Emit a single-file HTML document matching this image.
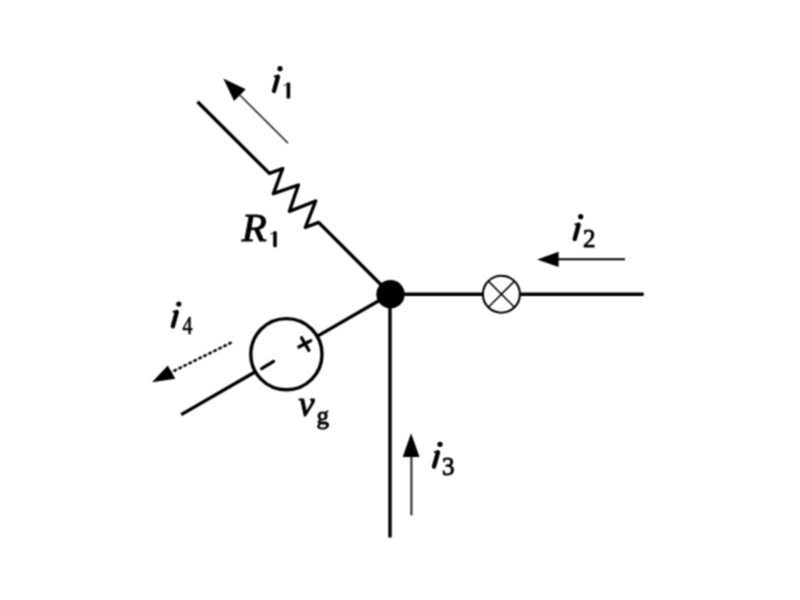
<!DOCTYPE html>
<html>
<head>
<meta charset="utf-8">
<style>
html,body{margin:0;padding:0;background:#fff;width:800px;height:600px;overflow:hidden;}
svg{display:block;}
.t{font-family:"Liberation Serif",serif;font-weight:normal;font-style:italic;font-size:40px;fill:#000;stroke:#000;stroke-width:0.9;}
.s{font-family:"Liberation Serif",serif;font-weight:normal;font-style:normal;font-size:25px;fill:#000;stroke:#000;stroke-width:0.9;}
</style>
</head>
<body>
<svg width="800" height="600" viewBox="0 0 800 600">
<defs>
<filter id="bl" filterUnits="userSpaceOnUse" x="0" y="0" width="800" height="600" color-interpolation-filters="sRGB">
  <feConvolveMatrix order="3" kernelMatrix="1 2 1 2 4 2 1 2 1" divisor="16" edgeMode="duplicate" preserveAlpha="true"/>
</filter>
<g id="ig"><circle cx="0" cy="0" r="2.6" fill="#000"/><line x1="-2" y1="8" x2="-6" y2="22.3" stroke="#000" stroke-width="4.3" stroke-linecap="round"/><polygon points="-0.8,5.9 -6.4,7.1 -6.2,8.3 -1.8,9.8" fill="#000"/></g>
<g id="one"><rect x="-1.8" y="0" width="3.6" height="16" rx="1.2" fill="#000"/><line x1="-1" y1="1.5" x2="-4.2" y2="2.8" stroke="#000" stroke-width="1.4" stroke-linecap="round" opacity="0.6"/></g>
</defs>
<g filter="url(#bl)">
<rect x="0" y="0" width="800" height="600" fill="#fff"/>
<g fill="none" stroke="#000" stroke-width="3.4" stroke-linejoin="round">
  <!-- upper-left wire with resistor -->
  <polyline points="197.5,101.8 269.4,173.4 282.7,168.5 273.4,193.7 298.4,185 289.4,211.3 315.7,201 305.3,227.5 318.6,222.4 390.5,294.2"/>
  <!-- right wire -->
  <line x1="390" y1="294.2" x2="483" y2="294.2"/>
  <line x1="520" y1="294.2" x2="643.7" y2="294.2"/>
  <!-- vertical wire -->
  <line x1="390" y1="294" x2="390" y2="537.5"/>
  <!-- lower-left wire -->
  <line x1="390.5" y1="294" x2="317.5" y2="336.1"/>
  <line x1="255" y1="372" x2="181.2" y2="414.6"/>
  <!-- voltage source circle -->
  <circle cx="286.4" cy="354.2" r="35.6"/>
</g>
<!-- node -->
<circle cx="390.5" cy="294.2" r="14.2" fill="#000"/>
<!-- lamp -->
<circle cx="501.4" cy="294.2" r="18.5" fill="none" stroke="#000" stroke-width="2.1"/>
<g stroke="#000" stroke-width="1.5">
  <line x1="488.6" y1="281.4" x2="514.2" y2="307"/>
  <line x1="514.2" y1="281.4" x2="488.6" y2="307"/>
</g>
<!-- plus / minus -->
<g stroke="#000" stroke-width="3.2" stroke-linecap="round">
  <line x1="261.6" y1="368.6" x2="273.6" y2="361.4"/>
  <line x1="298.8" y1="347" x2="310.8" y2="340.6"/>
  <line x1="301.5" y1="337.6" x2="308.9" y2="350.4"/>
</g>
<!-- arrows -->
<g stroke="#000" fill="none">
  <line x1="239.8" y1="95" x2="288" y2="143.2" stroke-width="1.7" stroke="#333"/>
  <line x1="558" y1="259.2" x2="625" y2="259.2" stroke-width="2"/>
  <line x1="411.4" y1="456" x2="411.4" y2="515.3" stroke-width="2" stroke="#222"/>
</g>
<line x1="231.42" y1="342.52" x2="171.5" y2="372.1" stroke="#000" stroke-width="2.6" stroke-dasharray="3.2 2.36"/>
<line x1="232.3" y1="342.05" x2="171.5" y2="372.1" stroke="#000" stroke-width="1.3" opacity="0.3"/>
<g fill="#000">
  <polygon points="223.3,78.5 234.1,100.9 245.7,89.3"/>
  <polygon points="537.2,259.4 558.6,251.8 558.6,266.9"/>
  <polygon points="411.1,433.2 402.7,457 419.5,457"/>
  <polygon points="152,382.2 167.8,365.4 175.3,378.7"/>
</g>
<!-- labels -->
<use href="#ig" x="280" y="68.7"/>
<use href="#ig" x="580.7" y="216.7"/>
<use href="#ig" x="440" y="444.3"/>
<use href="#ig" x="178.8" y="304"/>
<use href="#one" x="288.4" y="82.6"/>
<use href="#one" x="275" y="231.2"/>
<text class="s" x="583" y="246.7">2</text>
<text class="s" x="442" y="474.8">3</text>
<text class="s" transform="translate(182.6,334.2) scale(0.8,1)" style="stroke-width:0.6">4</text>
<text class="t" x="241.8" y="241.2" style="font-size:41px;stroke-width:1.0">R</text>
<text class="t" x="298.5" y="415.8" style="font-size:36px;stroke-width:1.1">v</text><text class="s" x="316.5" y="423.5">g</text>
</g>
</svg>
</body>
</html>
